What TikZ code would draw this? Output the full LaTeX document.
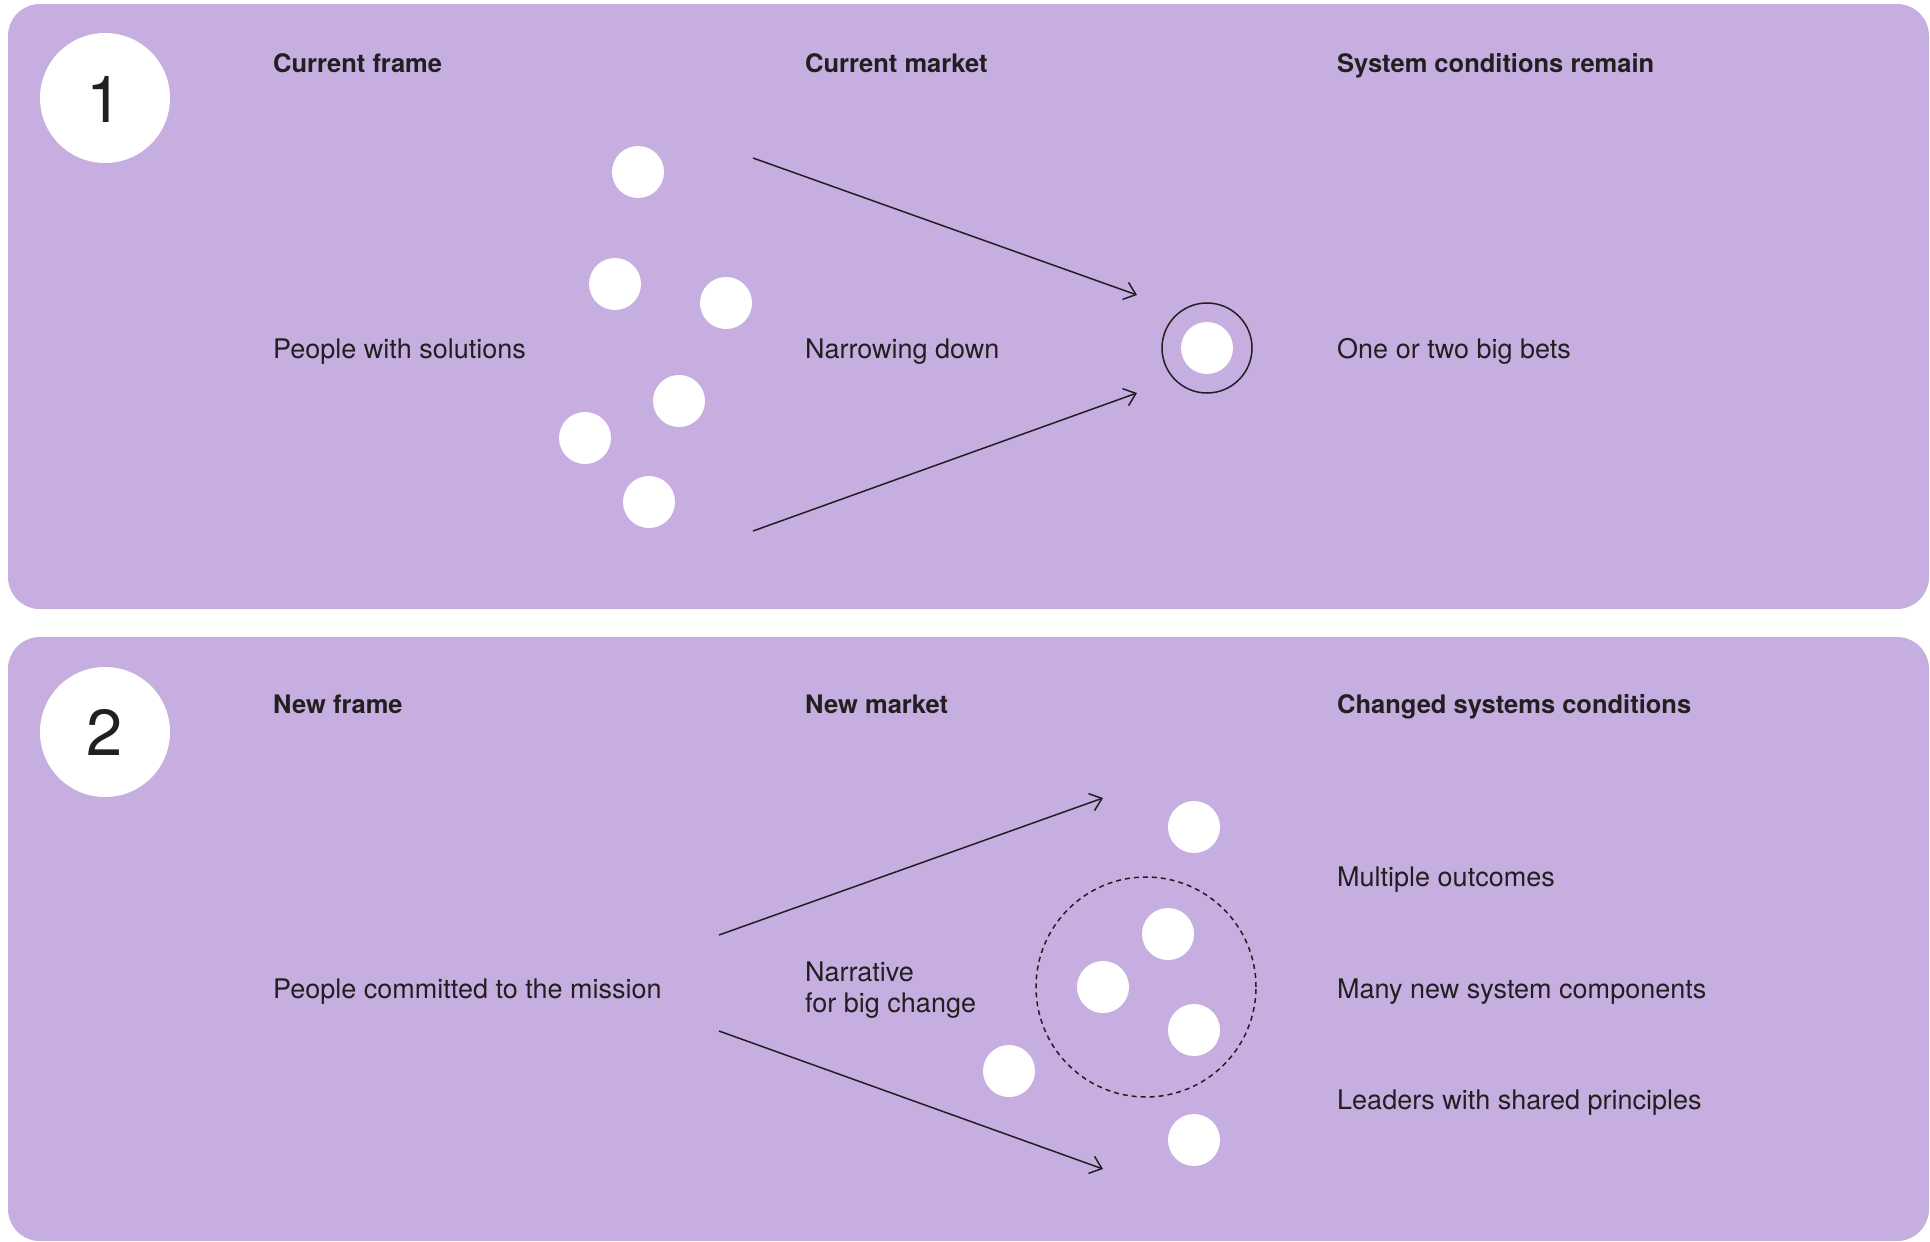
\documentclass[tikz,border=0pt]{standalone}
\usepackage{fontspec}
\setmainfont{TeX Gyre Heros}
\usepackage{tikz}
\usetikzlibrary{arrows.meta}
\definecolor{panelpurple}{RGB}{198,174,224}
\definecolor{inkdark}{RGB}{35,31,32}
\tikzset{
  panel/.style={fill=panelpurple,rounded corners=32pt},
  numdisc/.style={circle,fill=white,minimum size=130pt,inner sep=0pt},
  numtext/.style={anchor=base,text=inkdark,font=\fontsize{65}{70}\selectfont},
  dot/.style={circle,fill=white,minimum size=52pt,inner sep=0pt},
  head/.style={anchor=base west,inner xsep=0pt,text=inkdark,font=\fontsize{25.5}{31}\selectfont\bfseries},
  label/.style={anchor=base west,inner xsep=0pt,text=inkdark,font=\fontsize{27}{31}\selectfont},
  flow/.style={draw=inkdark,line width=1.5pt,-{Straight Barb[length=11pt,width=18pt]}}
}
\begin{document}
\begin{tikzpicture}[x=1pt,y=-1pt]
      \useasboundingbox (0,0) rectangle (1930,1242);
      % panel 1
      \fill [panel] (8,4) rectangle (1929,609);
      \node [numdisc] (n1) at (105,98) {};
      \node [numtext] (t1) at (105,122) {1};
      \node [head] (h11) at (273,72) {Current frame};
      \node [head] (h12) at (805,72) {Current market};
      \node [head] (h13) at (1337,72) {System conditions remain};
      \node [label] (l11) at (273,358) {People with solutions};
      \node [label] (l12) at (805,358) {Narrowing down};
      \node [label] (l13) at (1337,358) {One or two big bets};
      \node [dot] (d11) at (638,172) {};
      \node [dot] (d12) at (615,284) {};
      \node [dot] (d13) at (726,303) {};
      \node [dot] (d14) at (679,401) {};
      \node [dot] (d15) at (585,438) {};
      \node [dot] (d16) at (649,502) {};
      \coordinate (a11) at (753,158);
      \coordinate (b11) at (1137,295);
      \coordinate (a12) at (753,531);
      \coordinate (b12) at (1137,393);
      \draw [flow] (a11)--(b11);
      \draw [flow] (a12)--(b12);
      \node [circle,draw=inkdark,line width=1.5pt,minimum size=90pt,inner sep=0pt] (ring) at (1207,348) {};
      \node [dot] (bet) at (ring.center) {};
      % panel 2
      \fill [panel] (8,637) rectangle (1929,1241);
      \node [numdisc] (n2) at (105,732) {};
      \node [numtext] (t2) at (105,755) {2};
      \node [head] (h21) at (273,713) {New frame};
      \node [head] (h22) at (805,713) {New market};
      \node [head] (h23) at (1337,713) {Changed systems conditions};
      \node [label] (l21) at (273,998) {People committed to the mission};
      \node [label,align=left] (l22) at (805,1012) {Narrative\\for big change};
      \node [label] (l23) at (1337,886) {Multiple outcomes};
      \node [label] (l24) at (1337,998) {Many new system components};
      \node [label] (l25) at (1337,1109) {Leaders with shared principles};
      \coordinate (a21) at (719,935);
      \coordinate (b21) at (1103,798);
      \coordinate (a22) at (719,1031);
      \coordinate (b22) at (1103,1169);
      \draw [flow] (a21)--(b21);
      \draw [flow] (a22)--(b22);
      \node [circle,draw=inkdark,line width=1.5pt,dash pattern=on 5pt off 4pt,minimum size=220pt,inner sep=0pt] (cluster) at (1146,987) {};
      \node [dot] (d21) at (1194,827) {};
      \node [dot] (d22) at (1168,934) {};
      \node [dot] (d23) at (1103,987) {};
      \node [dot] (d24) at (1194,1030) {};
      \node [dot] (d25) at (1009,1071) {};
      \node [dot] (d26) at (1194,1140) {};
    \end{tikzpicture}
\end{document}
